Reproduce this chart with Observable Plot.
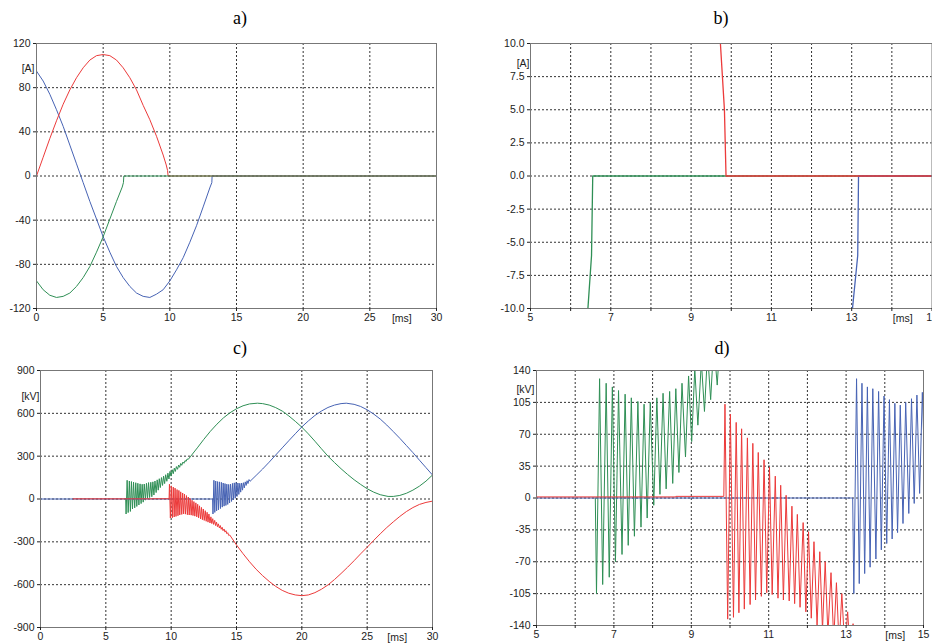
<!DOCTYPE html>
<html><head><meta charset="utf-8">
<script src="https://cdn.jsdelivr.net/npm/d3@7"></script>
<script src="https://cdn.jsdelivr.net/npm/@observablehq/plot@0.6"></script>
<style>
html,body{margin:0;padding:0;background:#fff;}
body{width:932px;height:643px;overflow:hidden;position:relative;}
.title{position:absolute;width:40px;text-align:center;font-family:"Liberation Serif","DejaVu Serif",serif;font-size:18px;line-height:20px;color:#000;}
.panel{position:absolute;}
</style></head><body>
<div class="title" style="left:220px;top:8px">a)</div>
<div class="title" style="left:701px;top:8px">b)</div>
<div class="title" style="left:220px;top:338px">c)</div>
<div class="title" style="left:702px;top:338px">d)</div>
<div id="pa" class="panel" style="left:0px;top:30px"></div>
<div id="pb" class="panel" style="left:466px;top:30px"></div>
<div id="pc" class="panel" style="left:0px;top:357px"></div>
<div id="pd" class="panel" style="left:466px;top:357px"></div>
<script>
// ---- currents [ms, A] ----
const currentRed = [[0,0],[0.5,17],[1,34],[1.5,50],[2,65],[2.5,78],[3,89],[3.5,98],[4,105],[4.5,109],[5,110],[5.5,109],[6,105],[6.5,98],[7,89],[7.5,78],[8,64],[8.5,51],[9,36],[9.5,19],[9.73,10],[9.83,5],[9.87,0],[30,0]];
const currentBlue = [[0,95],[0.5,86],[1,74],[1.5,60],[2,45],[2.5,28],[3,11],[3.5,-6],[4,-23],[4.5,-39],[5,-55],[5.5,-69],[6,-82],[6.5,-92],[7,-100],[7.5,-106],[8,-109],[8.5,-110],[9,-107],[9.5,-103],[10,-95],[10.5,-85],[11,-74],[11.5,-60],[12,-45],[12.5,-28],[13.02,-10],[13.15,-6],[13.17,0],[30,0]];
const currentGreen = [[0,-95],[0.5,-103],[1,-108],[1.5,-110],[2,-109],[2.5,-106],[3,-100],[3.5,-92],[4,-82],[4.5,-69],[5,-55],[5.5,-39],[6,-23],[6.43,-10],[6.52,-6],[6.55,0],[30,0]];

// ---- voltages [ms, kV] ----
const voltageGreen = [[6.52,0],[6.55,-105],[6.63,131],[6.71,-95],[6.80,126],[6.88,-87],[6.96,122],[7.04,-70],[7.12,118],[7.21,-62],[7.29,114],[7.37,-52],[7.45,110],[7.53,-42],[7.62,106],[7.70,-32],[7.78,103],[7.86,-22],[7.94,105],[8.03,-8],[8.11,110],[8.19,4],[8.27,115],[8.35,10],[8.44,117],[8.52,16],[8.60,120],[8.68,28],[8.76,126],[8.85,45],[8.93,134],[9.01,62],[9.09,142],[9.17,80],[9.26,150],[9.34,95],[9.42,160],[9.50,108],[9.58,170],[9.67,124],[9.75,181],[9.83,140],[9.91,193],[9.99,160],[10.08,205],[10.16,177],[10.24,216],[10.32,193],[10.40,227],[10.49,208],[10.57,238],[10.65,222],[10.73,249],[10.81,236],[10.90,259],[10.98,250],[11.06,269],[11.14,263],[11.22,280],[11.31,278],[11.5,300],[12,358],[12.5,418],[13,474],[13.5,524],[14,568],[14.5,604],[15,632],[15.5,653],[16,666],[16.6,671],[17,668],[17.5,658],[18,640],[18.5,616],[19,582],[19.5,544],[20,503],[20.5,456],[21,405],[21.5,352],[22,300],[22.5,255],[23,212],[23.5,172],[24,135],[24.5,102],[25,72],[25.5,48],[26,30],[26.6,18],[27,18],[27.5,25],[28,40],[28.5,62],[29,90],[29.5,125],[30,168]];
const voltageRed = [[2.5,1.2],[8.6,1.2],[8.6,1.8],[9.84,1.8],[9.87,103],[9.94,-133],[10.01,92],[10.09,-131],[10.16,83],[10.23,-126],[10.30,76],[10.37,-122],[10.45,66],[10.52,-117],[10.59,60],[10.66,-112],[10.73,50],[10.81,-108],[10.88,42],[10.95,-104],[11.02,34],[11.09,-106],[11.17,24],[11.24,-110],[11.31,14],[11.38,-112],[11.45,3],[11.53,-113],[11.60,-9],[11.67,-116],[11.74,-18],[11.81,-120],[11.89,-27],[11.96,-125],[12.03,-37],[12.10,-132],[12.17,-48],[12.25,-140],[12.32,-59],[12.39,-145],[12.46,-70],[12.53,-150],[12.61,-82],[12.68,-156],[12.75,-93],[12.82,-162],[12.89,-105],[12.97,-168],[13.04,-125],[13.11,-172],[13.18,-138],[13.25,-178],[13.33,-150],[13.40,-186],[13.47,-162],[13.54,-194],[13.61,-174],[13.69,-203],[13.76,-186],[13.83,-212],[13.90,-198],[13.97,-222],[14.05,-210],[14.12,-232],[14.19,-222],[14.26,-243],[14.33,-236],[14.41,-256],[14.48,-252],[15,-322],[15.5,-383],[16,-440],[16.5,-492],[17,-537],[17.5,-577],[18,-612],[18.5,-640],[19,-660],[19.5,-672],[20,-677],[20.5,-672],[21,-656],[21.5,-632],[22,-602],[22.5,-564],[23,-522],[23.5,-478],[24,-432],[24.5,-384],[25,-338],[25.5,-290],[26,-244],[26.5,-200],[27,-160],[27.5,-122],[28,-88],[28.5,-60],[29,-38],[29.5,-24],[30,-15]];
const voltageBlue = [[0,0],[13.17,0],[13.20,-105],[13.27,131],[13.34,-94],[13.41,126],[13.48,-83],[13.55,122],[13.62,-76],[13.69,120],[13.77,-67],[13.84,117],[13.91,-57],[13.98,112],[14.05,-50],[14.12,108],[14.19,-45],[14.26,104],[14.33,-38],[14.40,102],[14.47,-28],[14.54,105],[14.62,-17],[14.69,109],[14.76,-6],[14.83,113],[14.90,5],[14.97,116],[15.04,18],[15.11,112],[15.18,32],[15.25,110],[15.32,48],[15.39,112],[15.46,62],[15.53,114],[15.60,78],[15.67,120],[15.74,95],[15.81,128],[15.88,108],[15.96,136],[16.04,124],[16.5,165],[17,210],[17.5,258],[18,308],[18.5,358],[19,408],[19.5,457],[20,505],[20.5,547],[21,585],[21.5,616],[22,641],[22.5,658],[23,668],[23.4,671],[24,663],[24.5,648],[25,625],[25.5,595],[26,560],[26.5,518],[27,472],[27.5,425],[28,375],[28.5,325],[29,272],[29.5,220],[30,168]];

// ---- ticks ----
const ticksA_x = [0,5,10,15,20,25,30];
const ticksA_y = [-120,-80,-40,0,40,80,120];
const ticksB_x = [5,6,7,8,9,10,11,12,13,14,15];
const ticksB_y = [-10,-7.5,-5,-2.5,0,2.5,5,7.5,10];
const ticksC_x = [0,5,10,15,20,25,30];
const ticksC_y = [-900,-600,-300,0,300,600,900];
const ticksD_x = [5,6,7,8,9,10,11,12,13,14,15];
const ticksD_y = [-140,-105,-70,-35,0,35,70,105,140];

const RED = "#ec3a3a", GREEN = "#2f8f55", BLUE = "#4763b4";

function panel(o) {
  const grid = {stroke: "#333", strokeDasharray: "2,2", strokeWidth: 1};
  const xd = o.xTicks, yd = o.yTicks;
  const x0 = xd[0], x1 = xd[xd.length-1], y0 = yd[0], y1 = yd[yd.length-1];
  const svg = Plot.plot({
    width: o.width, height: o.height,
    marginLeft: o.ml, marginRight: o.mr, marginTop: o.mt, marginBottom: o.mb,
    style: {fontFamily: "'Liberation Sans', Arial, sans-serif", fontSize: "10.5px", color: "#222", background: "transparent", overflow: "visible"},
    x: {domain: [x0, x1]},
    y: {domain: [y0, y1]},
    marks: [
      Plot.ruleX(xd.filter(v => v !== x0 && v !== x1 && o.xGrid(v)), grid),
      Plot.ruleY(yd.filter(v => v !== y0 && v !== y1), grid),
      ...o.series.map(s => Plot.line(s.data, {x: d => d[0], y: d => d[1], stroke: s.color, strokeWidth: s.w || 1, clip: true})),
      Plot.frame({stroke: "#777"}),
      Plot.axisX({ticks: xd, tickFormat: o.xFmt, tickSize: 3, tickPadding: 2}),
      Plot.axisY({ticks: yd, tickFormat: o.yFmt, tickSize: 3, tickPadding: 3}),
      Plot.text(["[ms]"], {x: o.msX, y: y0, text: d => d, dy: 10.5}),
      Plot.text([o.unit], {text: d => d, frameAnchor: "top-left", textAnchor: "end", dx: o.udx, dy: o.udy})
    ]
  });
  document.getElementById(o.el).appendChild(svg);
}

panel({el: "pa", width: 466, height: 300, ml: 36, mr: 30, mt: 13, mb: 22,
  xTicks: ticksA_x, yTicks: ticksA_y, xGrid: () => true,
  xFmt: d => String(d), yFmt: d => String(d), msX: 27.4, unit: "[A]", udx: -2, udy: 21,
  series: [{data: currentBlue, color: BLUE}, {data: currentRed, color: RED}, {data: currentGreen, color: GREEN}]});

panel({el: "pb", width: 466, height: 300, ml: 64, mr: 0.5, mt: 13, mb: 22,
  xTicks: ticksB_x, yTicks: ticksB_y, xGrid: () => true,
  xFmt: d => (d % 2 === 1 ? String(d) : ""), yFmt: d => d.toFixed(1), msX: 14.27, unit: "[A]", udx: -1, udy: 16,
  series: [{data: currentGreen, color: GREEN, w: 1.3}, {data: currentBlue, color: BLUE, w: 1.3}, {data: currentRed, color: RED, w: 1.3}]});

panel({el: "pc", width: 466, height: 286, ml: 40, mr: 34, mt: 13, mb: 16,
  xTicks: ticksC_x, yTicks: ticksC_y, xGrid: () => true,
  xFmt: d => String(d), yFmt: d => String(d), msX: 27.3, unit: "[kV]", udx: -1, udy: 22,
  series: [{data: voltageGreen, color: GREEN}, {data: voltageBlue, color: BLUE}, {data: voltageRed, color: RED}]});

panel({el: "pd", width: 466, height: 286, ml: 70, mr: 9, mt: 13, mb: 18,
  xTicks: ticksD_x, yTicks: ticksD_y, xGrid: () => true,
  xFmt: d => (d % 2 === 1 ? String(d) : ""), yFmt: d => String(d), msX: 14.27, unit: "[kV]", udx: -2, udy: 15,
  series: [{data: voltageGreen, color: GREEN}, {data: voltageBlue, color: BLUE}, {data: voltageRed, color: RED}]});
</script>
</body></html>
